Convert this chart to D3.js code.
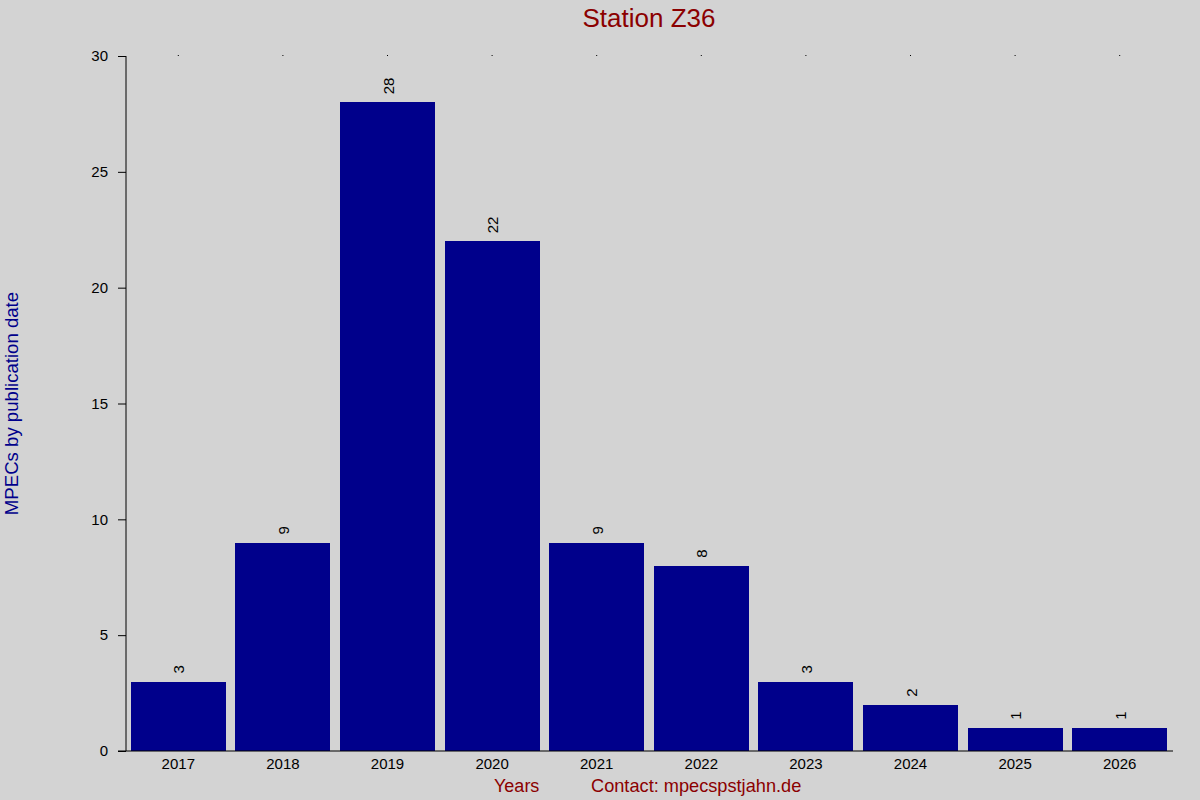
<!DOCTYPE html>
<html>
<head>
<meta charset="utf-8">
<script src="https://cdn.jsdelivr.net/npm/d3@7"></script>
<style>
  body { margin: 0; background: #d3d3d3; }
  svg { display: block; font-family: Arial, "Liberation Sans", sans-serif; }
</style>
</head>
<body>
<svg></svg>
<script>
var years = ["2017", "2018", "2019", "2020", "2021", "2022", "2023", "2024", "2025", "2026"];
var counts = [3, 9, 28, 22, 9, 8, 3, 2, 1, 1];
var yTicks = [0, 5, 10, 15, 20, 25, 30];

var SETTINGS = {
  width: 1200, height: 800,
  margin: {top: 56, right: 28, bottom: 49, left: 126}
};

function draw_bars(){
var width = SETTINGS.width - SETTINGS.margin.left - SETTINGS.margin.right,
    height = SETTINGS.height - SETTINGS.margin.top - SETTINGS.margin.bottom;

var svg = d3.select("svg")
      .attr("width", SETTINGS.width)
      .attr("height", SETTINGS.height);

svg.append("rect")
    .attr("width", SETTINGS.width)
    .attr("height", SETTINGS.height)
    .attr("fill", "#d3d3d3");

var g = svg.append("g")
    .attr("transform", "translate(" + SETTINGS.margin.left + "," + SETTINGS.margin.top + ")");

var x = d3.scaleBand()
    .domain(years)
    .range([0, width])
    .paddingInner(0.092)
    .paddingOuter(0.046);

var y = d3.scaleLinear()
    .domain([0, 30])
    .range([height, 0]);

// bars
g.selectAll(".bar")
    .data(years)
  .enter().append("rect")
    .attr("class", "bar")
    .attr("x", function(d) { return x(d); })
    .attr("y", function(d, i) { return y(counts[i]); })
    .attr("width", x.bandwidth())
    .attr("height", function(d, i) { return height - y(counts[i]); })
    .attr("fill", "#00008b")
    .attr("shape-rendering", "crispEdges");

// value labels, rotated
g.selectAll(".val")
    .data(years)
  .enter().append("text")
    .attr("class", "val")
    .attr("transform", function(d, i) {
      return "translate(" + (x(d) + x.bandwidth() / 2 + 6) + "," + (y(counts[i]) - 8) + ") rotate(-90)";
    })
    .attr("font-size", 15)
    .attr("fill", "#000")
    .text(function(d, i) { return counts[i]; });

// y axis
var yAxis = g.append("g")
    .call(d3.axisLeft(y).tickValues(yTicks).tickSize(8).tickPadding(10));
yAxis.selectAll("text").attr("font-size", 15).attr("fill", "#000").attr("font-family", "Arial, 'Liberation Sans', sans-serif");
yAxis.selectAll("line").attr("stroke", "#000");
yAxis.select(".domain").attr("d", "M0," + height + "V0").attr("stroke", "#000");

// x axis
var xAxis = g.append("g")
    .attr("transform", "translate(0," + height + ")")
    .call(d3.axisBottom(x).tickSize(0).tickPadding(7));
xAxis.selectAll("text").attr("font-size", 15).attr("fill", "#000").attr("font-family", "Arial, 'Liberation Sans', sans-serif");
xAxis.select(".domain").attr("d", "M-8,0H" + (width + 1)).attr("stroke", "#000");

// tiny tick dots along the top
var topAxis = g.append("g")
    .call(d3.axisTop(x).tickSize(1).tickFormat(""));
topAxis.select(".domain").remove();
topAxis.selectAll("line").attr("stroke", "#000");

// title
svg.append("text")
    .attr("x", SETTINGS.margin.left + width / 2)
    .attr("y", 27)
    .attr("text-anchor", "middle")
    .attr("font-size", 26)
    .attr("fill", "#8b0000")
    .text("Station Z36");

// x labels
svg.append("text")
    .attr("x", 494)
    .attr("y", 792)
    .attr("font-size", 18)
    .attr("fill", "#8b0000")
    .text("Years");
svg.append("text")
    .attr("x", 591)
    .attr("y", 792)
    .attr("font-size", 18.2)
    .attr("fill", "#8b0000")
    .text("Contact: mpecspstjahn.de");

// y label
svg.append("text")
    .attr("transform", "translate(18," + (SETTINGS.margin.top + height / 2) + ") rotate(-90)")
    .attr("text-anchor", "middle")
    .attr("font-size", 18.6)
    .attr("fill", "#00008b")
    .text("MPECs by publication date");
}

draw_bars();
</script>
</body>
</html>
